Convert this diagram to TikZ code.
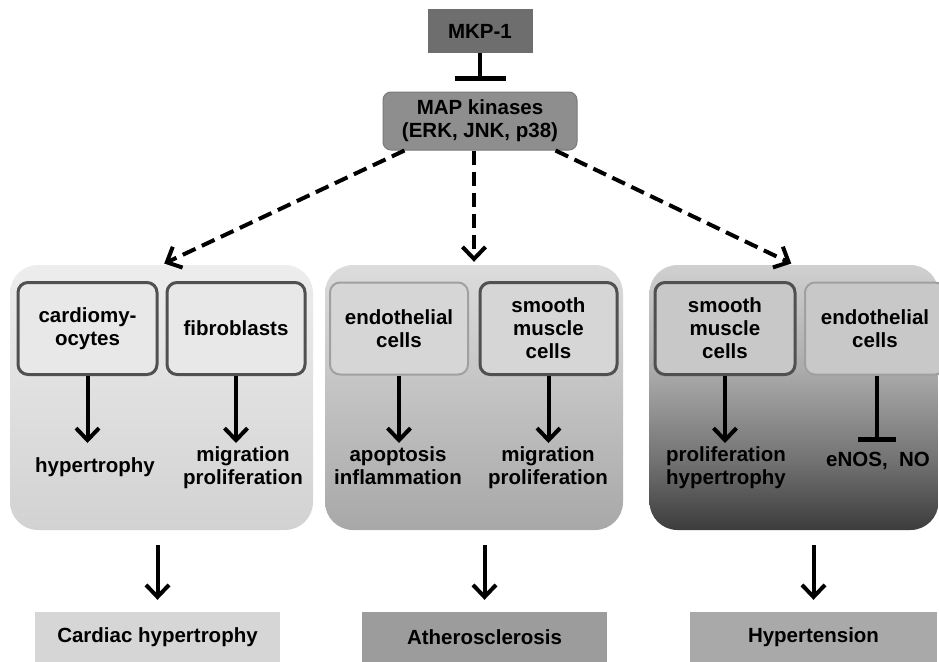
\documentclass[tikz,border=0pt]{standalone}
\usepackage{fontspec}
\setmainfont{Liberation Sans}
\usetikzlibrary{arrows.meta}

\definecolor{mkpgray}{HTML}{6E6E6E}
\definecolor{mapgray}{HTML}{8E8E8E}
\definecolor{mapedge}{HTML}{7A7A7A}
\definecolor{lpTop}{HTML}{EDEDED}
\definecolor{lpBot}{HTML}{D2D2D2}
\definecolor{mpTop}{HTML}{DCDCDC}
\definecolor{mpBot}{HTML}{A8A8A8}
\definecolor{rpTop}{HTML}{D0D0D0}
\definecolor{rpMid}{HTML}{ABABAB}
\definecolor{rpLow}{HTML}{727272}
\definecolor{rpBot}{HTML}{3C3C3C}
\definecolor{boxedge}{HTML}{505050}
\definecolor{thinedge}{HTML}{A0A0A0}
\definecolor{lbox}{HTML}{E8E8E8}
\definecolor{mbox}{HTML}{D6D6D6}
\definecolor{rbox}{HTML}{C8C8C8}
\definecolor{chgray}{HTML}{D6D6D6}
\definecolor{atgray}{HTML}{9C9C9C}
\definecolor{htgray}{HTML}{A9A9A9}

% right panel: light at the top, dark only near the bottom
\pgfdeclareverticalshading{rpshade}{100bp}{color(0bp)=(rpBot); color(25bp)=(rpBot);
    color(38bp)=(rpLow); color(55bp)=(rpMid); color(75bp)=(rpTop); color(100bp)=(rpTop)}

\begin{document}
\begin{tikzpicture}[x=1pt, y=-1pt,
    every node/.style={font=\bfseries\fontsize{20.5}{23}\selectfont, align=center, inner sep=0pt},
    panel/.style={rectangle, rounded corners=28pt, minimum height=265pt, minimum width=#1},
    cellbox/.style={rectangle, rounded corners=10pt, draw=boxedge, line width=3pt, minimum height=92pt, minimum width=#1},
    thinbox/.style={cellbox=#1, draw=thinedge, line width=2pt},
    arr/.style={line width=4pt, -{Straight Barb[length=12pt, width=23pt]}},
    dasharr/.style={arr, dash pattern=on 14pt off 7pt},
    inh/.style={line width=4pt, -{Bar[width=#1, line width=5pt]}}, inh/.default=38pt,
    disease/.style={rectangle, minimum width=#1, minimum height=50pt}, disease/.default=245pt
  ]

    \clip (0,0) rectangle (939,661);

    \node[fill=mkpgray, minimum width=105pt, minimum height=44pt] (mkp) at (480,31) {MKP-1};
    \node[fill=mapgray, draw=mapedge, line width=1pt, rounded corners=8pt,
          minimum width=194pt, minimum height=58pt] (map) at (480,121) {MAP kinases\\(ERK, JNK, p38)};

    \draw[inh=51pt, shorten >=11pt] (mkp) -- (map);

    % the three panels
    \node[panel=303pt, top color=lpTop, bottom color=lpBot] (lp) at (161.5,397.5) {};
    \node[panel=298pt, top color=mpTop, bottom color=mpBot] (mp) at (474,397.5) {};
    \node[panel=289pt, shading=rpshade] (rp) at (794,397.5) {};

    \draw[dasharr, shorten >=3pt] ([xshift=22pt]map.south west) -- (lp.north);
    \draw[dasharr, shorten >=3pt] (map.south -| mp.north) -- (mp.north);
    \draw[dasharr, shorten >=3pt] ([xshift=-22pt]map.south east) -- (rp.north);

    % cell types
    \node[cellbox=139pt, fill=lbox] (cardio) at (87.5,328.5) {cardiomy-\\ocytes};
    \node[cellbox=138pt, fill=lbox] (fibro) at (236,328.5) {fibroblasts};
    \node[thinbox=138pt, fill=mbox] (mendo) at (399,328.5) {endothelial\\cells};
    \node[cellbox=137pt, fill=mbox] (msmc) at (548.5,328.5) {smooth\\muscle\\cells};
    \node[cellbox=140pt, fill=rbox] (rsmc) at (725,328.5) {smooth\\muscle\\cells};
    \node[thinbox=140pt, fill=rbox] (rendo) at (875,328.5) {endothelial\\cells};

    % responses
    \node[anchor=north] (lhyp) at (95,457) {hypertrophy};
    \node[anchor=north] (lmig) at (243,446) {migration\\proliferation};
    \node[anchor=north] (mapo) at (398,446) {apoptosis\\inflammation};
    \node[anchor=north] (mmig) at (548,446) {migration\\proliferation};
    \node[anchor=north] (rpro) at (726,446) {proliferation\\hypertrophy};
    \node[anchor=north] (rno) at (878,452) {eNOS,\ \ NO};

    \draw[arr, shorten >=14pt] (cardio.south) -- (cardio.south |- lhyp.north);
    \draw[arr, shorten >=3pt] (fibro.south) -- (fibro.south |- lmig.north);
    \draw[arr, shorten >=3pt] (mendo.south) -- (mendo.south |- mapo.north);
    \draw[arr, shorten >=3pt] (msmc.south) -- (msmc.south |- mmig.north);
    \draw[arr, shorten >=3pt] (rsmc.south) -- (rsmc.south |- rpro.north);
    \draw[inh, shorten >=10pt] ([xshift=2pt]rendo.south) -- ([xshift=2pt]rendo.south |- rno.north);

    % diseases
    \node[disease, fill=chgray] (ch) at (157.5,637) {Cardiac hypertrophy};
    \node[disease, fill=atgray] (at) at (484.5,637) {Atherosclerosis};
    \node[disease=247pt, fill=htgray] (ht) at (813.5,637) {Hypertension};

    \foreach \p/\d in {lp/ch, mp/at, rp/ht}
        \draw[arr, shorten <=15pt, shorten >=12pt] (\d.north |- \p.south) -- (\d.north);

\end{tikzpicture}
\end{document}
